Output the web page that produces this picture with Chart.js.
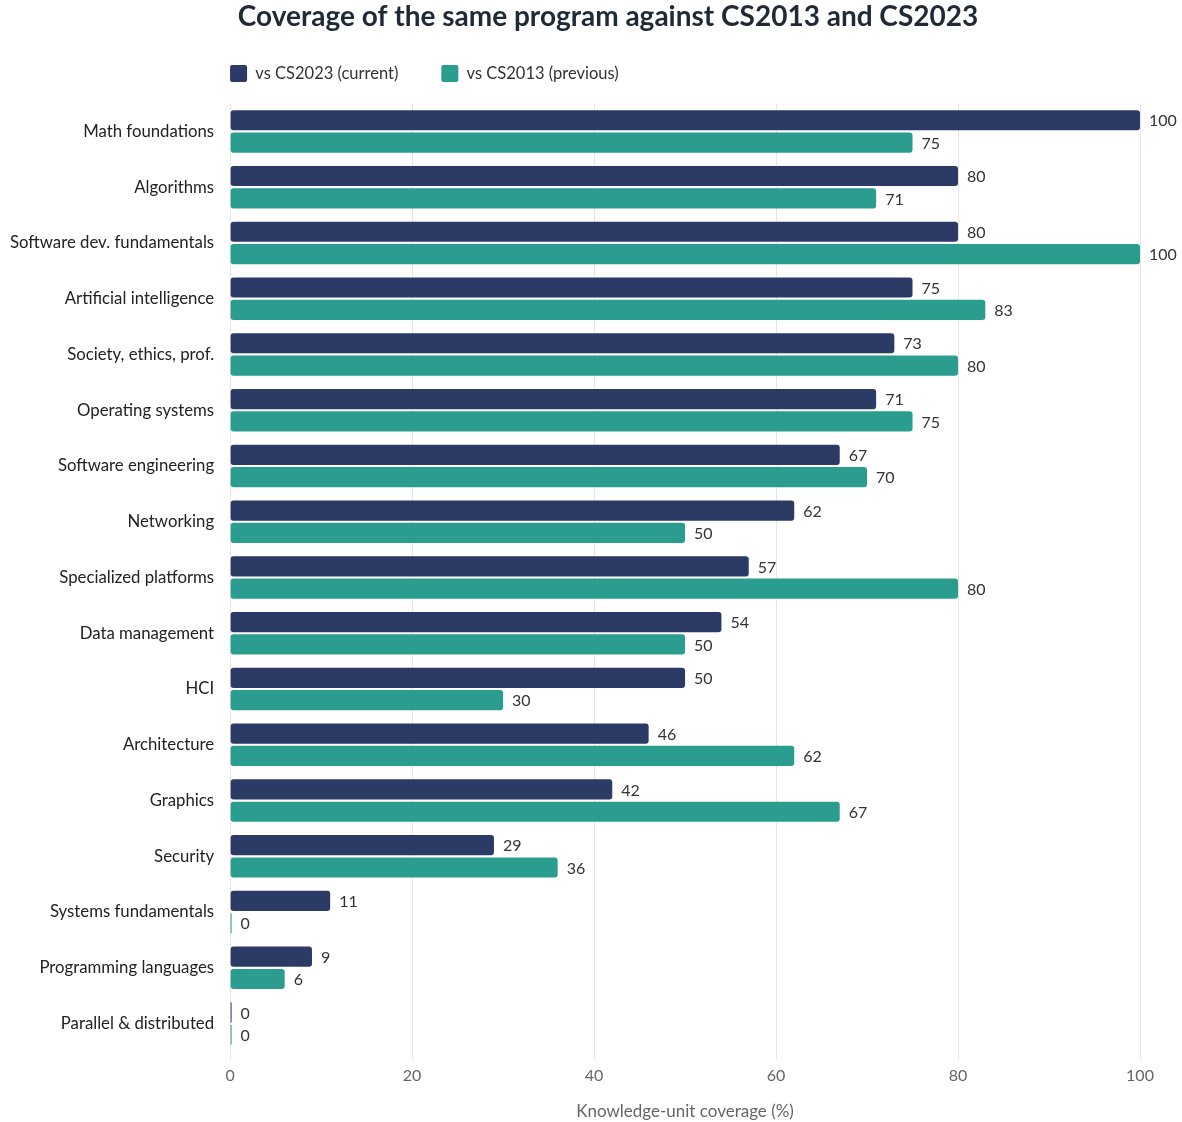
<!DOCTYPE html>
<html>
<head>
<meta charset="utf-8">
<title>Coverage CS2013 vs CS2023</title>
<script src="https://cdn.jsdelivr.net/npm/chart.js@4.4.1/dist/chart.umd.min.js"></script>
<style>
  html, body { margin: 0; padding: 0; background: #fff; }
  #wrap { width: 1182px; height: 1122px; position: relative; }
</style>
</head>
<body>
<div id="wrap"><canvas id="cov-chart"></canvas></div>
<script>
/* ─── Data ────────────────────────────────────────────────────────────── */
const areas = [
  "Math foundations", "Algorithms", "Software dev. fundamentals",
  "Artificial intelligence", "Society, ethics, prof.", "Operating systems",
  "Software engineering", "Networking", "Specialized platforms",
  "Data management", "HCI", "Architecture", "Graphics", "Security",
  "Systems fundamentals", "Programming languages", "Parallel & distributed",
];
const vsCS2023 = [100, 80, 80, 75, 73, 71, 67, 62, 57, 54, 50, 46, 42, 29, 11, 9, 0];
const vsCS2013 = [75, 71, 100, 83, 80, 75, 70, 50, 80, 50, 30, 62, 67, 36, 0, 6, 0];
const xTicks   = [0, 20, 40, 60, 80, 100];

const NAVY = "#2c3a66";
const TEAL = "#2a9d8f";
const FONT = "Lato, 'Open Sans', sans-serif";
const LEGEND_GAP = 43;

/* ─── Value labels at bar ends ───────────────────────────────────────── */
const barValueLabels = {
  id: "barValueLabels",
  afterDatasetsDraw(chart) {
    const ctx = chart.ctx;
    ctx.save();
    ctx.font = `16px ${FONT}`;
    ctx.fillStyle = "#333";
    ctx.textAlign = "left";
    ctx.textBaseline = "middle";
    chart.data.datasets.forEach((ds, di) => {
      chart.getDatasetMeta(di).data.forEach((bar, i) => {
        ctx.fillText(String(ds.data[i]), bar.x + 9, bar.y + 1);
      });
    });
    ctx.restore();
  },
};

/* ─── Nudge title / legend to where the original had them ────────────── */
const headerNudge = {
  id: "headerNudge",
  afterLayout(chart) {
    if (chart.titleBlock) { chart.titleBlock.left += 37; chart.titleBlock.right += 37; }
    if (chart.legend) {
      chart.legend.left = chart.chartArea.left - LEGEND_GAP;
      chart.legend.top = 65 - LEGEND_GAP;
    }
  },
};

/* ─── Chart ───────────────────────────────────────────────────────────── */
new Chart(document.getElementById("cov-chart").getContext("2d"), {
  type: "bar",
  data: {
    labels: areas,
    datasets: [
      { label: "vs CS2023 (current)",  data: vsCS2023, backgroundColor: NAVY, borderRadius: 3, borderSkipped: false, minBarLength: 1.5 },
      { label: "vs CS2013 (previous)", data: vsCS2013, backgroundColor: TEAL, borderRadius: 3, borderSkipped: false, minBarLength: 1.5 },
    ],
  },
  options: {
    indexAxis: "y",
    responsive: true, maintainAspectRatio: false, animation: false,
    layout: { padding: { left: 2, right: 42, top: 0, bottom: 0 } },
    plugins: {
      title: {
        display: true,
        text: "Coverage of the same program against CS2013 and CS2023",
        color: "#1f2a36",
        font: { family: FONT, size: 28, weight: "bold" },
        padding: { top: 0, bottom: 0 },
      },
      legend: {
        position: "top", align: "start", fullSize: false,
        labels: {
          color: "#333", boxWidth: 17, boxHeight: 17, padding: LEGEND_GAP,
          useBorderRadius: true, borderRadius: 2,
          font: { family: FONT, size: 16.5 },
        },
      },
      tooltip: { enabled: false },
    },
    scales: {
      x: {
        min: 0, max: 100,
        afterBuildTicks: axis => { axis.ticks = xTicks.map(v => ({ value: v })); },
        grid: { color: "#e6e6e6", tickLength: 8 },
        border: { display: false },
        ticks: { color: "#666", font: { family: FONT, size: 16 }, padding: 7 },
        title: {
          display: true, text: "Knowledge-unit coverage (%)", color: "#666",
          font: { family: FONT, size: 17 }, padding: { top: 9, bottom: 0 },
        },
      },
      y: {
        grid: { display: false },
        border: { display: false },
        ticks: { color: "#222", font: { family: FONT, size: 16.75 }, padding: 8 },
      },
    },
  },
  plugins: [barValueLabels, headerNudge],
});
</script>
</body>
</html>
